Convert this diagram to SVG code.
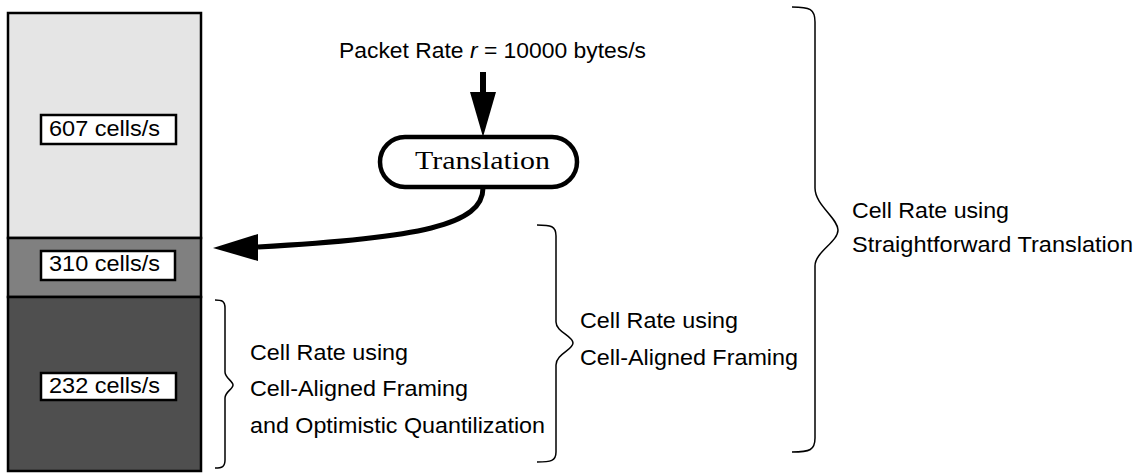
<svg xmlns="http://www.w3.org/2000/svg" width="1136" height="474" viewBox="0 0 1136 474">
<style>
.sans{font-family:"Liberation Sans",Arial,sans-serif;font-size:21.5px;fill:#000}
.serif{font-family:"Liberation Serif","Times New Roman",serif;font-size:25px;fill:#000}
.lbl{fill:#fff;stroke:#000;stroke-width:2.5}
.brace{fill:none;stroke:#000;stroke-width:1.5}
</style>
<rect width="1136" height="474" fill="#fff"/>
<g id="column">
<rect x="8" y="13" width="193" height="225" fill="#e5e5e5" stroke="#000" stroke-width="2.5"/>
<rect x="8" y="238" width="193" height="59" fill="#808080" stroke="#000" stroke-width="2.5"/>
<rect x="8" y="297" width="193" height="174" fill="#4f4f4f" stroke="#000" stroke-width="2.5"/>
</g>
<g id="rate607">
<rect class="lbl" x="41" y="115" width="135" height="29"/>
<text class="sans" x="49" y="136" textLength="111" lengthAdjust="spacingAndGlyphs">607 cells/s</text>
</g>
<g id="rate310">
<rect class="lbl" x="41" y="251" width="134" height="29"/>
<text class="sans" x="49" y="271" textLength="111" lengthAdjust="spacingAndGlyphs">310 cells/s</text>
</g>
<g id="rate232">
<rect class="lbl" x="41" y="373" width="135" height="27"/>
<text class="sans" x="49" y="393" textLength="111" lengthAdjust="spacingAndGlyphs">232 cells/s</text>
</g>
<g id="packetRate">
<text class="sans" x="339" y="58" textLength="307" lengthAdjust="spacingAndGlyphs">Packet Rate <tspan font-style="italic">r</tspan> = 10000 bytes/s</text>
</g>
<g id="translation">
<rect x="380" y="137" width="197" height="50" rx="25" ry="25" fill="#fff" stroke="#000" stroke-width="4.5"/>
<text class="serif" x="415" y="169" textLength="135" lengthAdjust="spacingAndGlyphs">Translation</text>
</g>
<g id="connectors">
<line x1="483" y1="72" x2="483" y2="93" stroke="#000" stroke-width="6"/>
<polygon points="470,92 496,92 483,137" fill="#000"/>
<path d="M483,188 C483,225 420,238 258,247" fill="none" stroke="#000" stroke-width="5"/>
<polygon points="213,248 258,234 258,261" fill="#000"/>
</g>
<g id="braceSmall">
<path class="brace" d="M215,300 C222,300 225,301 225,308 L225,372 C225,378 233,381 233,385 C233,389 225,392 225,398 L225,460 C225,467 222,468 215,468"/>
<text class="sans" x="250" y="360" textLength="158" lengthAdjust="spacingAndGlyphs">Cell Rate using</text>
<text class="sans" x="250" y="396" textLength="218" lengthAdjust="spacingAndGlyphs">Cell-Aligned Framing</text>
<text class="sans" x="250" y="433" textLength="295" lengthAdjust="spacingAndGlyphs">and Optimistic Quantilization</text>
</g>
<g id="braceMiddle">
<path class="brace" d="M537,225 C551,225 556,226 556,236 L556,322 C556,332 573,336 573,343 C573,350 556,354 556,365 L556,452 C556,461 551,462 537,462"/>
<text class="sans" x="580" y="328" textLength="158" lengthAdjust="spacingAndGlyphs">Cell Rate using</text>
<text class="sans" x="580" y="365" textLength="218" lengthAdjust="spacingAndGlyphs">Cell-Aligned Framing</text>
</g>
<g id="braceLarge">
<path class="brace" d="M792,7 C810,7 815,9 815,22 L815,188 C815,205 838,218 838,230 C838,242 815,252 815,266 L815,438 C815,450 810,452 792,452"/>
<text class="sans" x="852" y="218" textLength="157" lengthAdjust="spacingAndGlyphs">Cell Rate using</text>
<text class="sans" x="852" y="252" textLength="281" lengthAdjust="spacingAndGlyphs">Straightforward Translation</text>
</g>
</svg>
